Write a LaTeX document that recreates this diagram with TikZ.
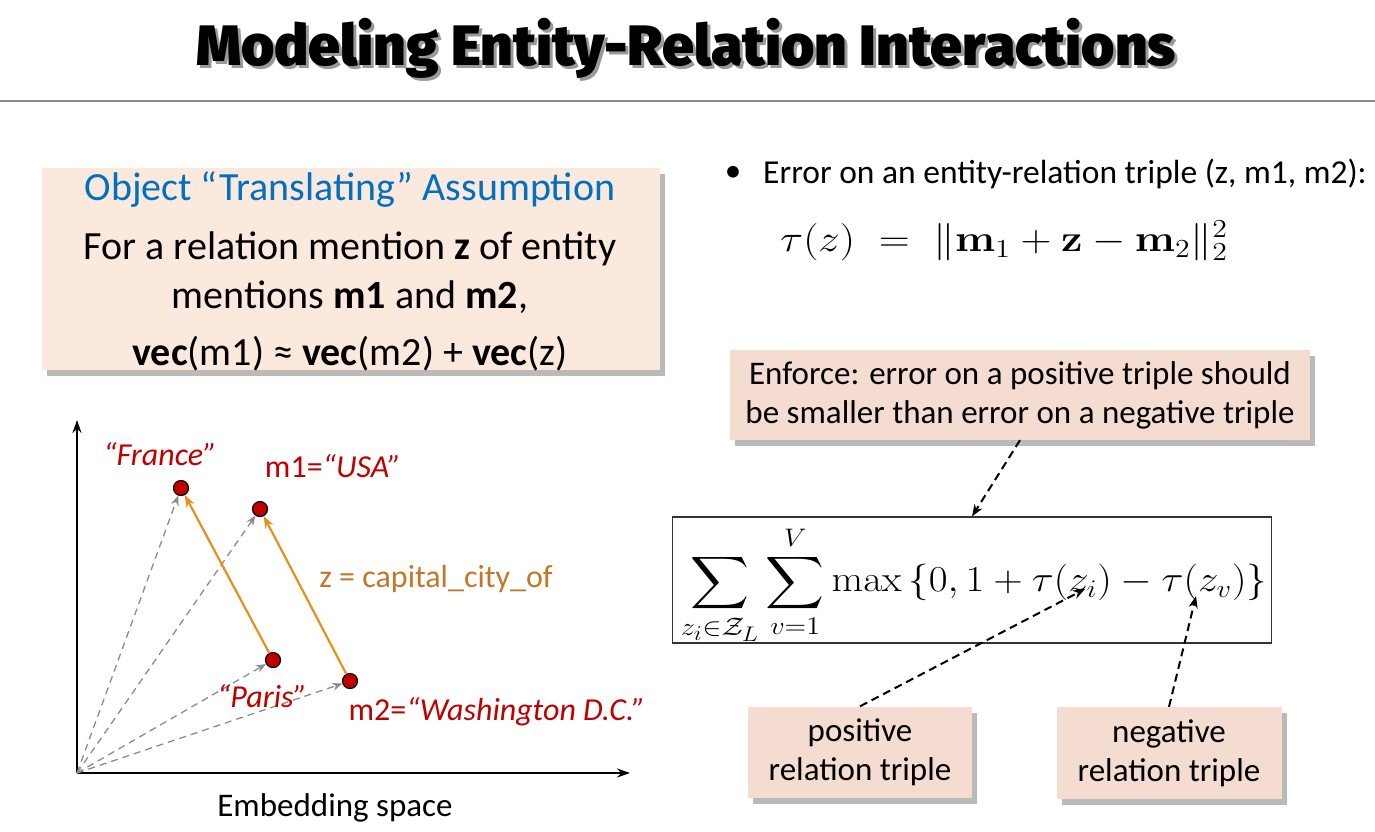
\documentclass[tikz,border=0pt]{standalone}
\usepackage{amsmath,amssymb}
\usepackage{graphicx}
\usepackage[no-math]{fontspec}
\setmainfont{Carlito}
\newfontfamily\titlefont{Fira Sans Black}
\usepackage{tikz}
\usetikzlibrary{arrows.meta,positioning,shadows}

\definecolor{boxpeach}{HTML}{FCE9DE}
\definecolor{boxpink}{HTML}{F4DCD0}
\definecolor{headblue}{HTML}{0070C0}
\definecolor{entred}{HTML}{C00000}
\definecolor{relorange}{HTML}{E8901A}
\definecolor{rellabel}{HTML}{C07828}
\newcommand{\fsz}[2]{\fontsize{#1}{#2}\selectfont}

\begin{document}
\begin{tikzpicture}[x=1pt, y=-1pt,
    shade box/.style={rectangle, inner sep=0pt, drop shadow={shadow xshift=5pt, shadow yshift=-6pt, fill=black!60, opacity=.45}},
    note/.style={shade box, fill=boxpink, align=center, font=\fsz{33}{39}},
    body/.style={font=\fsz{40}{46}, inner sep=0pt},
    formula/.style={font=\fsz{20.74}{25}, inner sep=0pt},
    pt/.style={circle, draw=black, fill=entred, line width=1.2pt, minimum size=15pt, inner sep=0pt},
    entity/.style={text=entred, font=\fsz{32}{36}, inner sep=0pt},
    vecarrow/.style={-{Stealth[length=10pt,width=8pt]}, draw=black!45, dash pattern=on 7pt off 5pt, line width=1.3pt},
    transarrow/.style={-{Stealth[length=12pt,width=9pt]}, draw=relorange, line width=2.2pt},
    ptr/.style={-{Stealth[length=12pt,width=9pt]}, dash pattern=on 8pt off 5pt, line width=2pt},
    axis/.style={-{Stealth[length=13pt,width=9pt]}, line width=2.2pt}]
    \useasboundingbox (0,0) rectangle (1375,831);

    % title
    \node[text=black!40, font=\titlefont\fsz{57}{57}] at (689,51) {Modeling Entity-Relation Interactions};
    \node[font=\titlefont\fsz{57}{57}] (title) at (686,48) {Modeling Entity-Relation Interactions};
    \draw[black!45, line width=1.5pt] (0,101) -- (1375,101);

    % assumption box
    \node[shade box, fill=boxpeach, minimum width=618pt, minimum height=202pt] (assume) at (351,269) {};
    \node[body, text=headblue] (asshead) at (350,190) {Object “Translating” Assumption};
    \node[body] (line1) at (350,249) {For a relation mention \textbf{z} of entity};
    \node[body] (line2) at (350,297) {mentions \textbf{m1} and \textbf{m2},};
    \node[body] (line3) at (350,354) {\textbf{vec}(m1) ≈ \textbf{vec}(m2) + \textbf{vec}(z)};

    % embedding space
    \coordinate (origin) at (77,773);
    \coordinate (ytop) at (77,420);
    \coordinate (xend) at (630,773);
    \draw[axis] (origin) -- (ytop);
    \draw[axis] (origin) -- (xend);
    \node[font=\fsz{33}{38}, inner sep=0pt] (space) at (335,808) {Embedding space};

    \node[pt] (france) at (181,488) {};
    \node[pt] (usa) at (260,509) {};
    \node[pt] (paris) at (273,660) {};
    \node[pt] (dc) at (350,681) {};

    \foreach \p in {france,usa,paris,dc}
        \draw[vecarrow] (origin) -- (\p);
    \draw[transarrow] (paris) -- (france);
    \draw[transarrow] (dc) -- (usa);

    \node[entity] (francelbl) at (160,454) {\textit{“France”}};
    \node[entity] (usalbl) at (333,466) {m1=\textit{“USA”}};
    \node[entity] (parislbl) at (262,696) {\textit{“Paris”}};
    \node[entity] (dclbl) at (497,712) {m2=\textit{“Washington D.C.”}};
    \node[text=rellabel, font=\fsz{32}{36}, inner sep=0pt] (zlbl) at (436,579) {z = capital\_city\_of};

    % error definition
    \node[font=\fsz{33}{38}, inner sep=0pt] (bullet) at (733,174) {•};
    \node[anchor=west, font=\fsz{33.5}{38}, inner sep=0pt] (errtext) at (763,174) {Error on an entity-relation triple (z, m1, m2):};
    \node[formula, anchor=west] (tau) at (780,241) {\scalebox{2.07}[1.8]{\(\tau(z) \;=\; \|\mathbf{m}_1 + \mathbf{z} - \mathbf{m}_2\|_2^2\)}};

    % loss
    \node[note, minimum width=580pt, minimum height=90pt] (enforce) at (1020,395) {Enforce: error on a positive triple should\\be smaller than error on a negative triple};
    \node[draw=black!80, line width=1.2pt, minimum width=599pt, minimum height=126pt, inner sep=0pt] (lossbox) at (972,580) {};
    \node[formula] (loss) at (974,585)
        {\scalebox{1.97}[1.76]{\(\displaystyle\sum_{z_i\in\mathcal{Z}_L}\sum_{v=1}^{V}\max\left\{0,1+\tau(z_i)-\tau(z_v)\right\}\)}};
    \coordinate (zi) at (1085,589);
    \coordinate (zv) at (1196,596);
    \node[note, minimum width=224pt, minimum height=91pt] (pos) at (860,752) {positive\\relation triple};
    \node[note, minimum width=225pt, minimum height=92pt] (neg) at (1169,753) {negative\\relation triple};

    \draw[ptr] (enforce.south) -- (lossbox.north);
    \draw[ptr] (pos.north) -- (zi);
    \draw[ptr] (neg.north) -- (zv);
\end{tikzpicture}
\end{document}
